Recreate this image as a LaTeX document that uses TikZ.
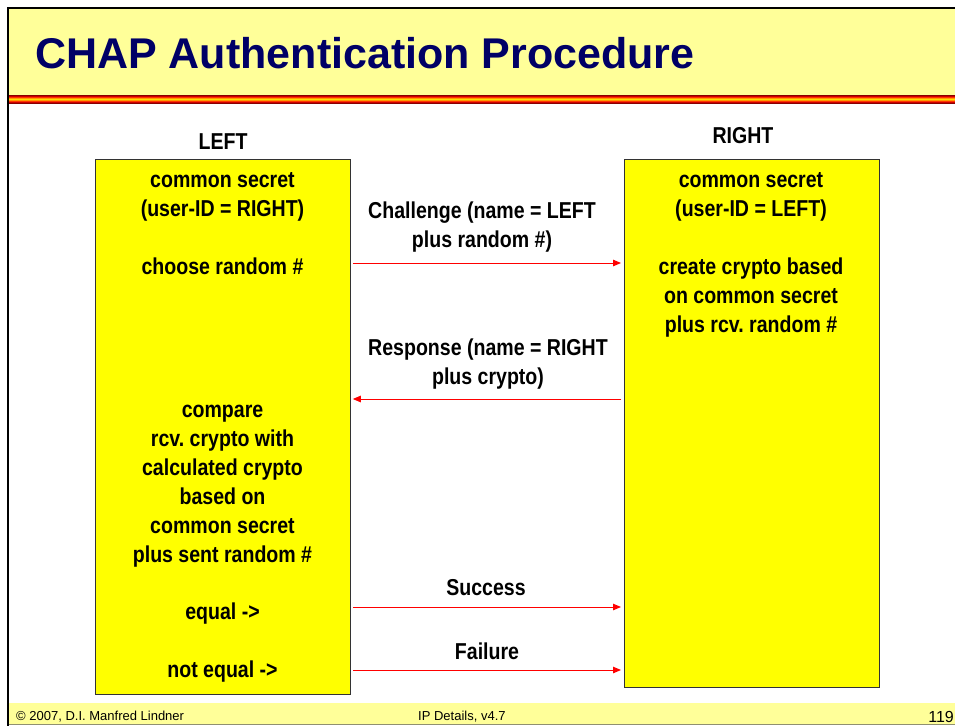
\documentclass[tikz,border=0pt]{standalone}
\usepackage{fontspec}
\setmainfont{Liberation Sans}
\newfontfamily\bodyfont{Liberation Sans}[FakeStretch=0.85]
\usetikzlibrary{arrows.meta}
\frenchspacing
\definecolor{paleyel}{HTML}{FFFF99}
\definecolor{navy}{HTML}{000066}
\definecolor{boxyel}{HTML}{FFFF00}
\definecolor{arrred}{HTML}{FF0000}
\definecolor{footline}{HTML}{909070}
\definecolor{st1}{HTML}{880000}
\definecolor{st2}{HTML}{CC0000}
\definecolor{st3}{HTML}{FF3300}
\definecolor{st4}{HTML}{FF9900}
\definecolor{st5}{HTML}{FFDD00}
\begin{document}
\begin{tikzpicture}[x=1pt,y=-1pt,
 txt/.style={anchor=base, inner sep=0pt, font=\bodyfont\bfseries\fontsize{23}{29}\selectfont},
 box/.style={draw=black!80, fill=boxyel, line width=0.8pt, anchor=north west, inner sep=0pt},
 msg/.style={draw=arrred, line width=1pt, -{Triangle[length=8pt,width=6.5pt]}},
 foot/.style={anchor=base west, inner sep=0pt, font=\fontsize{13}{15}\selectfont}
]
\useasboundingbox (0,0) rectangle (955,725);
\fill[white] (0,0) rectangle (955,725);
% title band
\fill[paleyel] (8,8) rectangle (955,95);
% stripe
\fill[st1] (8,95) rectangle (955,96);
\fill[st2] (8,96) rectangle (955,97);
\fill[st3] (8,97) rectangle (955,98);
\fill[st4] (8,98) rectangle (955,99);
\fill[st5] (8,99) rectangle (955,100);
\fill[st4] (8,100) rectangle (955,101);
\fill[st3] (8,101) rectangle (955,102);
\fill[st2] (8,102) rectangle (955,103);
\fill[st1] (8,103) rectangle (955,104);
% footer band
\fill[paleyel] (8,703) rectangle (955,725);
\draw[footline, line width=1pt] (8,724.5) -- (955,724.5);
% frame
\draw[line width=2pt, black] (8,730) -- (8,8) -- (960,8);
% title
\node[anchor=base west, inner sep=0pt, text=navy, font=\bfseries\fontsize{43}{50}\selectfont] (title) at (35,69) {CHAP Authentication Procedure};
% footer texts
\node[foot] (copy) at (16,720) {© 2007, D.I. Manfred Lindner};
\node[foot] (ipd) at (418,720) {IP Details, v4.7};
\node[anchor=base east, inner sep=0pt, font=\fontsize{16}{18}\selectfont] (page) at (954,722) {119};
% column headings
\node[txt] (hleft) at (223,149) {LEFT};
\node[txt] (hright) at (743,143) {RIGHT};
% boxes
\node[box, minimum width=255pt, minimum height=535pt] (lbox) at (95,159) {};
\node[box, minimum width=255pt, minimum height=528pt] (rbox) at (624,159) {};
% left box text
\node[txt] (l1) at (222.5,187) {common secret};
\node[txt] (l2) at (222.5,216) {(user-ID = RIGHT)};
\node[txt] (l3) at (222.5,274) {choose random \#};
\node[txt] (l4) at (222.5,417) {compare};
\node[txt] (l5) at (222.5,446) {rcv. crypto with};
\node[txt] (l6) at (222.5,475) {calculated crypto};
\node[txt] (l7) at (222.5,504) {based on};
\node[txt] (l8) at (222.5,533) {common secret};
\node[txt] (l9) at (222.5,562) {plus sent random \#};
\node[txt] (l10) at (222.5,619) {equal ->};
\node[txt] (l11) at (222.5,677) {not equal ->};
% right box text
\node[txt] (r1) at (751,187) {common secret};
\node[txt] (r2) at (751,216) {(user-ID = LEFT)};
\node[txt] (r3) at (751,274) {create crypto based};
\node[txt] (r4) at (751,303) {on common secret};
\node[txt] (r5) at (751,332) {plus rcv. random \#};
% message labels
\node[txt] (m1a) at (482,218) {Challenge (name = LEFT};
\node[txt] (m1b) at (482,247) {plus random \#)};
\node[txt] (m2a) at (488,355) {Response (name = RIGHT};
\node[txt] (m2b) at (488,384) {plus crypto)};
\node[txt] (m3) at (486,595) {Success};
\node[txt] (m4) at (487,659) {Failure};
% arrow rows
\coordinate (y1) at (0,263);
\coordinate (y2) at (0,399);
\coordinate (y3) at (0,607);
\coordinate (y4) at (0,670);
\draw[msg] ([xshift=2pt]lbox.east |- y1) -- ([xshift=-3pt]rbox.west |- y1);
\draw[msg] ([xshift=-3pt]rbox.west |- y2) -- ([xshift=2pt]lbox.east |- y2);
\draw[msg] ([xshift=2pt]lbox.east |- y3) -- ([xshift=-3pt]rbox.west |- y3);
\draw[msg] ([xshift=2pt]lbox.east |- y4) -- ([xshift=-3pt]rbox.west |- y4);
\end{tikzpicture}
\end{document}
